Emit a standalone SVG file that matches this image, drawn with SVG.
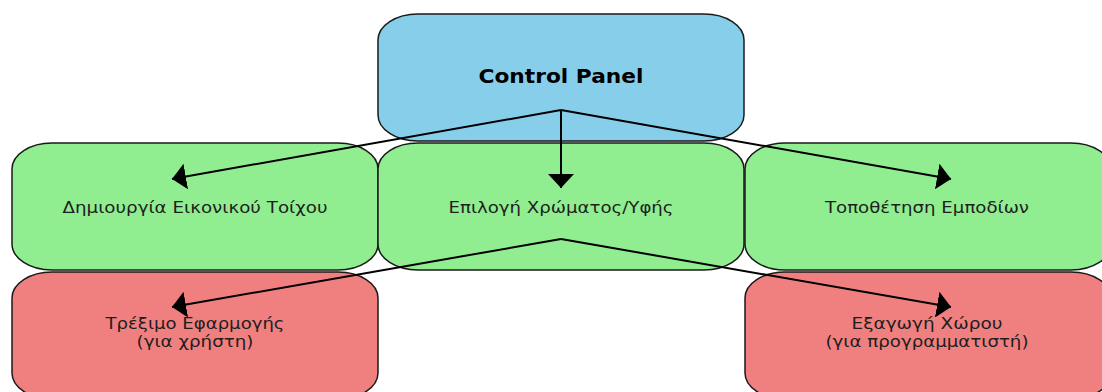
<svg xmlns="http://www.w3.org/2000/svg" width="1102" height="392" viewBox="0 0 1102 392">
  <style>
    .box { stroke: #1a1a1a; stroke-width: 1.5; }
    .blue { fill: #87CEEB; }
    .green { fill: #90EE90; }
    .red { fill: #F08080; }
    .lbl { font-family: "DejaVu Sans", "Liberation Sans", sans-serif; font-size: 16px; fill: #1e1e1e; text-anchor: middle; }
    .lbl2 { font-family: "DejaVu Sans", "Liberation Sans", sans-serif; font-size: 15px; fill: #1e1e1e; text-anchor: middle; }
    .title { font-family: "DejaVu Sans", "Liberation Sans", sans-serif; font-size: 20px; font-weight: bold; fill: #000; text-anchor: middle; }
    .edge { stroke: #000; stroke-width: 2; fill: none; marker-end: url(#arrow); }
  </style>
  <defs>
    <marker id="arrow" viewBox="0 0 14 26" refX="14" refY="13" markerWidth="14" markerHeight="26" markerUnits="userSpaceOnUse" orient="auto">
      <path d="M0,0 L14,13 L0,26 Z" fill="#000"/>
    </marker>
  </defs>
  <rect width="1102" height="392" fill="#ffffff"/>

  <g id="node-control-panel">
    <rect class="box blue" x="378" y="14" width="366" height="127" rx="40" ry="26"/>
    <text class="title" x="561" y="83" textLength="165" lengthAdjust="spacingAndGlyphs">Control Panel</text>
  </g>

  <g id="node-wall">
    <rect class="box green" x="12" y="143" width="366" height="127" rx="40" ry="26"/>
    <text class="lbl" x="195" y="213" textLength="265" lengthAdjust="spacingAndGlyphs">Δημιουργία Εικονικού Τοίχου</text>
  </g>

  <g id="node-color">
    <rect class="box green" x="378" y="143" width="366" height="127" rx="40" ry="26"/>
    <text class="lbl" x="561" y="213" textLength="225" lengthAdjust="spacingAndGlyphs">Επιλογή Χρώματος/Υφής</text>
  </g>

  <g id="node-obstacles">
    <rect class="box green" x="745" y="143" width="366" height="127" rx="40" ry="26"/>
    <text class="lbl" x="927" y="213" textLength="204" lengthAdjust="spacingAndGlyphs">Τοποθέτηση Εμποδίων</text>
  </g>

  <g id="node-run">
    <rect class="box red" x="12" y="272" width="366" height="127" rx="40" ry="26"/>
    <text class="lbl2" x="195" y="328.5" textLength="179" lengthAdjust="spacingAndGlyphs">Τρέξιμο Εφαρμογής</text>
    <text class="lbl2" x="195" y="346.5" textLength="117" lengthAdjust="spacingAndGlyphs">(για χρήστη)</text>
  </g>

  <g id="node-export">
    <rect class="box red" x="745" y="272" width="366" height="127" rx="40" ry="26"/>
    <text class="lbl2" x="927" y="328.5" textLength="151" lengthAdjust="spacingAndGlyphs">Εξαγωγή Χώρου</text>
    <text class="lbl2" x="927" y="346.5" textLength="203" lengthAdjust="spacingAndGlyphs">(για προγραμματιστή)</text>
  </g>

  <g id="connectors">
    <line class="edge" x1="561" y1="110" x2="172" y2="179"/>
    <line class="edge" x1="561" y1="110" x2="561" y2="188"/>
    <line class="edge" x1="561" y1="110" x2="951" y2="179"/>
    <line class="edge" x1="561" y1="239" x2="172" y2="307"/>
    <line class="edge" x1="561" y1="239" x2="951" y2="307"/>
  </g>
</svg>
